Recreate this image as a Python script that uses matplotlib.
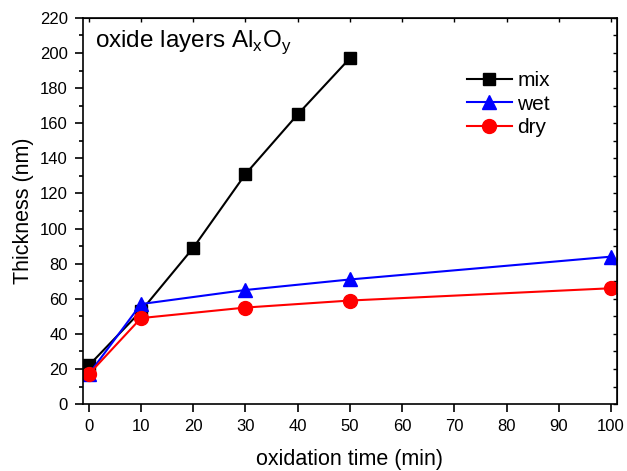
import matplotlib.pyplot as plt
from matplotlib.ticker import MultipleLocator

plt.rcParams['font.family'] = ['Liberation Sans', 'DejaVu Sans']

# data
t_mix = [0, 10, 20, 30, 40, 50]
mix = [22, 53, 89, 131, 165, 197]
t_wet = [0, 10, 30, 50, 100]
wet = [17, 57, 65, 71, 84]
t_dry = [0, 10, 30, 50, 100]
dry = [17, 49, 55, 59, 66]

fig = plt.figure(figsize=(6.27, 4.71), dpi=100)
ax = fig.add_axes([0.132, 0.142, 0.852, 0.820])

ax.plot(t_mix, mix, color='black', marker='s', markersize=8.5, lw=1.5, label='mix')
ax.plot(t_wet, wet, color='blue', marker='^', markersize=10, lw=1.5, label='wet')
ax.plot(t_dry, dry, color='red', marker='o', markersize=10, lw=1.5, label='dry')

ax.set_xlim(-1.15, 101.15)
ax.set_ylim(0, 220)
ax.xaxis.set_major_locator(MultipleLocator(10))
ax.yaxis.set_major_locator(MultipleLocator(20))
ax.yaxis.set_minor_locator(MultipleLocator(10))
ax.tick_params(which='both', direction='out', labelsize=12, width=1.2, pad=5)
ax.tick_params(which='major', length=5.8)
ax.tick_params(which='minor', length=2.9)
for s in ax.spines.values():
    s.set_linewidth(1.2)

# inward ticks on top and right
top = ax.secondary_xaxis('top')
top.xaxis.set_major_locator(MultipleLocator(10))
top.tick_params(direction='in', length=3, labeltop=False, width=1)
right = ax.secondary_yaxis('right')
right.yaxis.set_major_locator(MultipleLocator(20))
right.yaxis.set_minor_locator(MultipleLocator(10))
right.tick_params(which='both', direction='in', length=3, labelright=False, width=1)

ax.set_xlabel('oxidation time (min)', fontsize=15.5, labelpad=11)
ax.set_ylabel('Thickness (nm)', fontsize=15.5, labelpad=4)

ax.text(0.0225, 0.925, r'oxide layers Al$_\mathregular{x}$O$_\mathregular{y}$',
        transform=ax.transAxes, fontsize=17.5, va='baseline', ha='left')

ax.legend(loc='upper left', bbox_to_anchor=(0.719, 0.862), frameon=False,
          fontsize=15, handlelength=2.16, labelspacing=0.22, handletextpad=0.25,
          borderpad=0, borderaxespad=0)

fig.savefig('out.png', dpi=100)
